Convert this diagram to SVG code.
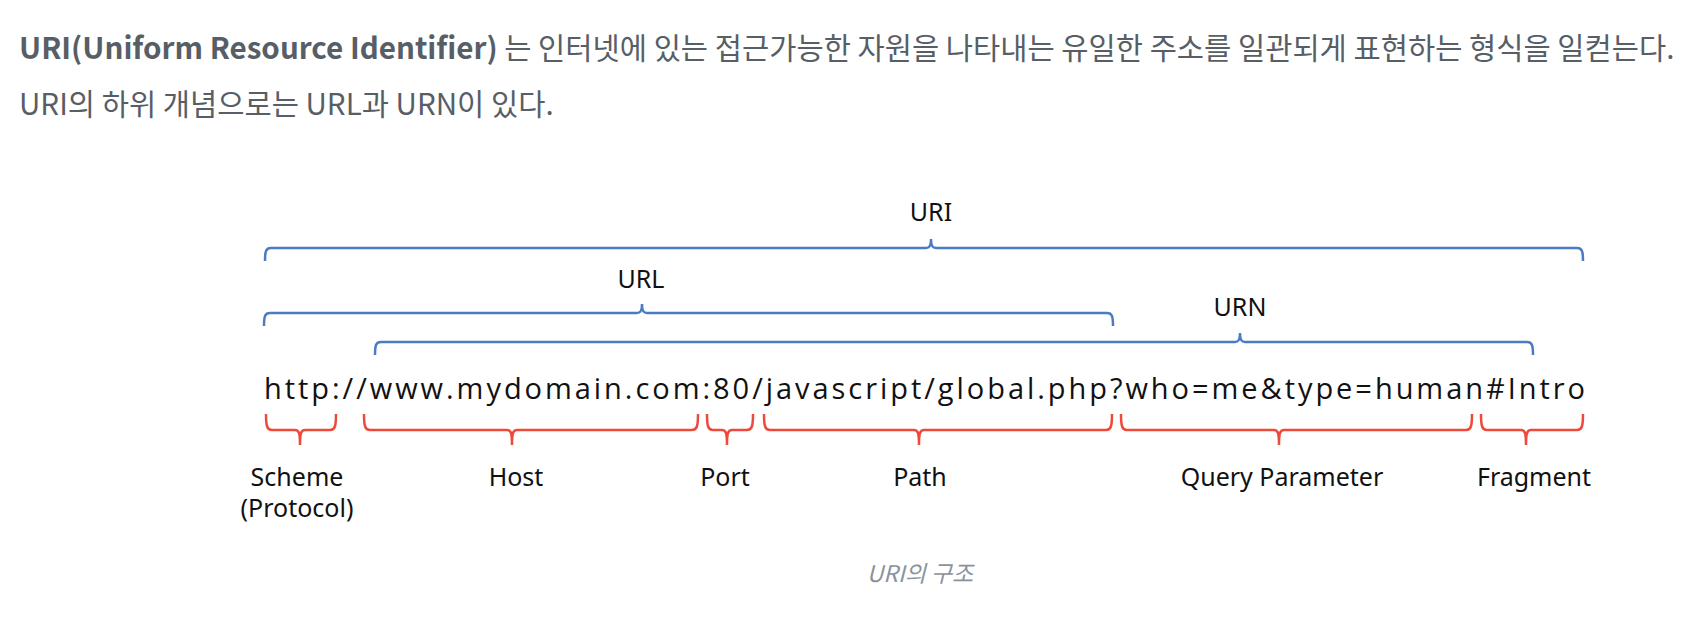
<svg xmlns="http://www.w3.org/2000/svg" width="1702" height="642" viewBox="0 0 1702 642">
<style>
.intro{font-family:"Noto Sans CJK KR","Noto Sans",sans-serif;font-size:29.6px;fill:#575e66;}
.b{font-weight:bold;}
.lbl{font-family:"Noto Sans","Open Sans",sans-serif;font-size:25px;fill:#111;text-anchor:middle;}
.url{font-family:"Open Sans","Noto Sans",sans-serif;font-size:29px;fill:#111;}
.blue{fill:none;stroke:#4a7cc4;stroke-width:2.5;}
.red{fill:none;stroke:#ee4a3c;stroke-width:2.5;}
.cap{font-family:"Noto Sans CJK KR","Noto Sans",sans-serif;font-size:23px;font-style:italic;fill:#8a939d;text-anchor:middle;}
</style>
<rect width="1702" height="642" fill="#fff"/>
<g id="intro">
<text class="intro" x="19" y="59"><tspan class="b">URI(Uniform Resource Identifier)</tspan> 는 인터넷에 있는 접근가능한 자원을 나타내는 유일한 주소를 일관되게 표현하는 형식을 일컫는다.</text>
<text class="intro" x="19" y="115">URI의 하위 개념으로는 URL과 URN이 있다.</text>
</g>
<g id="uri-node">
<text class="lbl" x="931" y="221">URI</text>
<path class="blue" d="M265 261 C265 251 266 248 271 248 L926 248 C930 248 931 245 931 239 C931 245 932 248 936 248 L1577 248 C1582 248 1583 251 1583 261"/>
</g>
<g id="url-node">
<text class="lbl" x="641" y="288">URL</text>
<path class="blue" d="M264 326 C264 316 265 313 270 313 L637 313 C641 313 642 310 642 304 C642 310 643 313 647 313 L1107 313 C1112 313 1113 316 1113 326"/>
</g>
<g id="urn-node">
<text class="lbl" x="1240" y="316">URN</text>
<path class="blue" d="M375 355 C375 345 376 342 381 342 L1235 342 C1239 342 1240 339 1240 333 C1240 339 1241 342 1245 342 L1527 342 C1532 342 1533 345 1533 355"/>
</g>
<g id="url-text">
<text class="url" x="264" y="399" textLength="1321" lengthAdjust="spacing">http://www.mydomain.com:80/javascript/global.php?who=me&amp;type=human#Intro</text>
</g>
<g id="connectors">
<path class="red" d="M266 414 C266 426 267 430 272 430 L295 430 C299 430 300 433 300 445 C300 433 301 430 305 430 L330 430 C335 430 336 426 336 414"/>
<path class="red" d="M364 414 C364 426 365 430 370 430 L507 430 C511 430 512 433 512 445 C512 433 513 430 517 430 L692 430 C697 430 698 426 698 414"/>
<path class="red" d="M707 414 C707 426 708 430 713 430 L722 430 C726 430 727 433 727 445 C727 433 728 430 732 430 L747 430 C752 430 753 426 753 414"/>
<path class="red" d="M764 414 C764 426 765 430 770 430 L914 430 C918 430 919 433 919 445 C919 433 920 430 924 430 L1106 430 C1111 430 1112 426 1112 414"/>
<path class="red" d="M1121 414 C1121 426 1122 430 1127 430 L1274 430 C1278 430 1279 433 1279 445 C1279 433 1280 430 1284 430 L1466 430 C1471 430 1472 426 1472 414"/>
<path class="red" d="M1481 414 C1481 426 1482 430 1487 430 L1521 430 C1525 430 1526 433 1526 445 C1526 433 1527 430 1531 430 L1577 430 C1582 430 1583 426 1583 414"/>
</g>
<g id="scheme"><text class="lbl" x="297" y="486">Scheme</text><text class="lbl" x="297" y="517">(Protocol)</text></g>
<g id="host"><text class="lbl" x="516" y="486">Host</text></g>
<g id="port"><text class="lbl" x="725" y="486">Port</text></g>
<g id="path"><text class="lbl" x="920" y="486">Path</text></g>
<g id="query"><text class="lbl" x="1282" y="486">Query Parameter</text></g>
<g id="fragment"><text class="lbl" x="1534" y="486">Fragment</text></g>
<g id="caption"><text class="cap" x="920" y="582">URI의 구조</text></g>
</svg>
